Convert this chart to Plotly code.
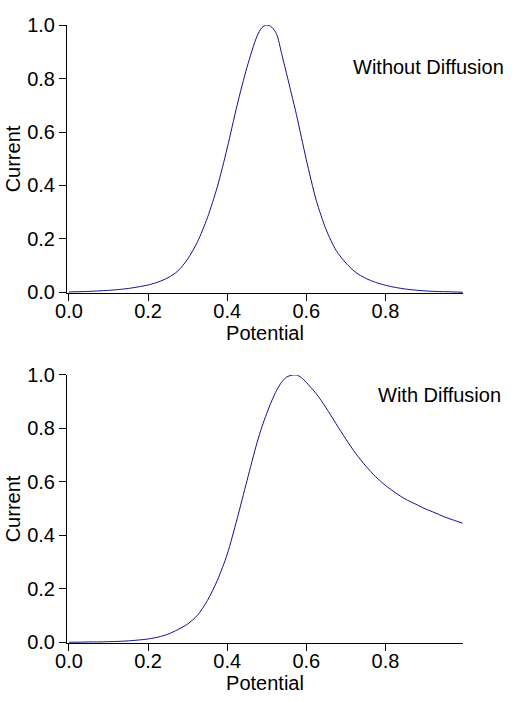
import plotly.graph_objects as go
from plotly.subplots import make_subplots

# potential values
potential = [0.0, 0.025, 0.05, 0.075, 0.1, 0.125, 0.15, 0.175, 0.2, 0.225,
             0.25, 0.275, 0.3, 0.325, 0.35, 0.375, 0.4, 0.425, 0.45, 0.475,
             0.4875, 0.5, 0.5125, 0.525, 0.5375, 0.55, 0.5625, 0.575, 0.5875, 0.6,
             0.625, 0.65, 0.675, 0.7, 0.725, 0.75, 0.775, 0.8, 0.825, 0.85,
             0.875, 0.9, 0.925, 0.95, 0.975, 0.995]

current_no_diff = [0.002, 0.003, 0.004, 0.006, 0.008, 0.011, 0.015, 0.021, 0.028, 0.039,
                   0.055, 0.080, 0.125, 0.190, 0.280, 0.395, 0.540, 0.700, 0.842, 0.957,
                   0.990, 1.0, 0.992, 0.965, 0.893, 0.818, 0.742, 0.665, 0.580, 0.496,
                   0.345, 0.235, 0.158, 0.110, 0.075, 0.053, 0.038, 0.027, 0.019, 0.013,
                   0.009, 0.006, 0.004, 0.003, 0.002, 0.001]

current_diff = [0.001, 0.001, 0.002, 0.002, 0.003, 0.004, 0.006, 0.009, 0.013, 0.020,
                0.031, 0.048, 0.069, 0.102, 0.157, 0.232, 0.330, 0.462, 0.605, 0.745,
                0.805, 0.857, 0.903, 0.943, 0.973, 0.992, 0.999, 1.0, 0.990, 0.972,
                0.930, 0.877, 0.818, 0.760, 0.706, 0.660, 0.620, 0.587, 0.560, 0.536,
                0.518, 0.500, 0.485, 0.469, 0.456, 0.446]

x_ticks = [0.0, 0.2, 0.4, 0.6, 0.8]
y_ticks = [0.0, 0.2, 0.4, 0.6, 0.8, 1.0]

font = dict(family="Liberation Sans, Arial, sans-serif", size=20, color="black")
line_color = "#101090"

fig = make_subplots(rows=2, cols=1)

fig.add_trace(go.Scatter(x=potential, y=current_no_diff, mode="lines",
                         line=dict(color=line_color, width=1, shape="spline", smoothing=0.8)),
              row=1, col=1)
fig.add_trace(go.Scatter(x=potential, y=current_diff, mode="lines",
                         line=dict(color=line_color, width=1, shape="spline", smoothing=0.8)),
              row=2, col=1)

axis_style = dict(showline=True, linecolor="black", linewidth=1, showgrid=False,
                  zeroline=False, ticks="outside", ticklen=7, tickwidth=1,
                  tickcolor="black", tickfont=font, mirror=False, automargin=False)

fig.update_xaxes(range=[-0.005, 0.996], tickvals=x_ticks, tickformat=".1f",
                 ticklabelstandoff=-7,
                 title=dict(text="Potential", font=font, standoff=0), **axis_style)
fig.update_yaxes(range=[-0.002, 1.0], tickvals=y_ticks, tickformat=".1f",
                 title=dict(text="Current", font=font, standoff=1), **axis_style)

fig.update_yaxes(domain=[0.5663, 1.0], row=1, col=1)
fig.update_yaxes(domain=[0.0, 0.4337], row=2, col=1)

fig.add_annotation(x=0.713, y=0.843, xref="x", yref="y", text="Without Diffusion",
                   showarrow=False, xanchor="left", yanchor="middle", font=font)
fig.add_annotation(x=0.775, y=0.925, xref="x2", yref="y2", text="With Diffusion",
                   showarrow=False, xanchor="left", yanchor="middle", font=font)

fig.update_layout(width=512, height=702, showlegend=False,
                  margin=dict(l=67, r=49, t=25, b=59, autoexpand=False),
                  plot_bgcolor="white", paper_bgcolor="white", font=font)

# drop the browser's default 8px body margin so the figure fills the window
fig.write_html("out.html", config={"displayModeBar": False},
               post_script="document.body.style.margin = '0px';")
